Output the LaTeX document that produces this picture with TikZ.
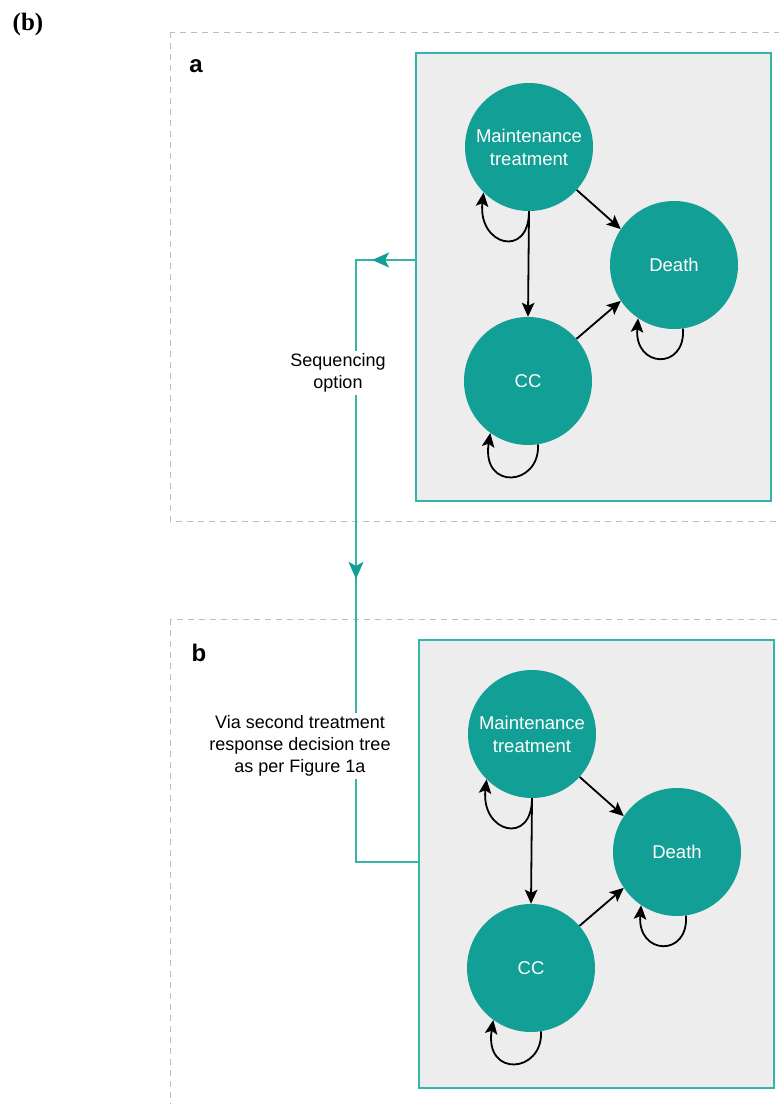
\documentclass[tikz,border=0pt]{standalone}
\usepackage{fontspec}
\setmainfont{Liberation Sans}
\newfontfamily\serifb{Liberation Serif}
\usetikzlibrary{arrows.meta,decorations.markings}
\definecolor{tealfill}{HTML}{129F95}
\definecolor{tealline}{HTML}{35B5A9}
\definecolor{panelgray}{HTML}{EDEDED}
\definecolor{dashgray}{HTML}{BDBDBD}
\begin{document}
\begin{tikzpicture}[x=1pt,y=-1pt,
 state/.style={circle,fill=tealfill,minimum size=128pt,inner sep=0pt,text=white,font=\fontsize{18.5}{23}\selectfont,align=center},
 panel/.style={draw=tealline,fill=panelgray,line width=1.8pt,minimum width=355pt,minimum height=448pt,inner sep=0pt},
 outer/.style={draw=dashgray,dash pattern=on 6pt off 5pt,line width=1pt},
 trans/.style={-{Stealth[length=14pt,width=12.5pt,inset=3pt]},line width=1.8pt,black},
 seqline/.style={draw=tealline,line width=1.8pt},
 lbl/.style={fill=white,font=\fontsize{18}{22}\selectfont,align=center,inner sep=3pt},
 plabel/.style={font=\bfseries\fontsize{24}{24}\selectfont}
 ]
\useasboundingbox (0,0) rectangle (779,1104);
\clip (0,0) rectangle (779,1104);

% dashed outer frames
\draw[outer] (170,32) rectangle (800,521);
\draw[outer] (170,619) rectangle (800,1200);

\node[font=\serifb\bfseries\fontsize{25}{25}\selectfont] (title) at (28,24) {(b)};
\node[plabel] (la) at (196,66) {a};
\node[plabel] (lb) at (199,653) {b};

% panels
\node[panel] (boxA) at (593.5,277) {};
\node[panel] (boxB) at (596.5,864) {};

% panel a states
\node[state] (MA) at (529,147) {Maintenance\\treatment};
\node[state] (DA) at (674,265) {Death};
\node[state] (CA) at (528,381) {CC};
\draw[trans] (MA.-90) -- (CA.90);
\draw[trans] (MA.-42) -- (DA.146);
\draw[trans] (CA.41) -- (DA.214);
\draw[trans] (MA.-90) .. controls +(0,48) and +(-6,53) .. (MA.-135);
\draw[trans] (DA.-82) .. controls +(3,42) and +(-4,50) .. (DA.-124);
\draw[trans] (CA.-81) .. controls +(2,42) and +(-9,58) .. (CA.-126);

% panel b states
\node[state] (MB) at (532,734) {Maintenance\\treatment};
\node[state] (DB) at (677,852) {Death};
\node[state] (CB) at (531,968) {CC};
\draw[trans] (MB.-90) -- (CB.90);
\draw[trans] (MB.-42) -- (DB.146);
\draw[trans] (CB.41) -- (DB.214);
\draw[trans] (MB.-90) .. controls +(0,48) and +(-6,53) .. (MB.-135);
\draw[trans] (DB.-82) .. controls +(3,42) and +(-4,50) .. (DB.-124);
\draw[trans] (CB.-81) .. controls +(2,42) and +(-9,58) .. (CB.-126);

% sequencing connector
\coordinate (turn) at (356,560);
\draw[seqline,
  postaction={decorate,decoration={markings,
    mark=at position 43pt with {\arrow[tealfill]{Stealth[length=17pt,width=15pt,inset=4pt]}},
    mark=at position 378pt with {\arrow[tealfill]{Stealth[length=17pt,width=15pt,inset=4pt]}}}}]
  ([yshift=17pt]boxA.west) -| (turn) |- ([yshift=2pt]boxB.west);

\node[lbl] (seq) at (338,373) {Sequencing\\option};
\node[lbl] (via) at (300,746) {Via second treatment\\response decision tree\\as per Figure 1a};
\end{tikzpicture}
\end{document}
